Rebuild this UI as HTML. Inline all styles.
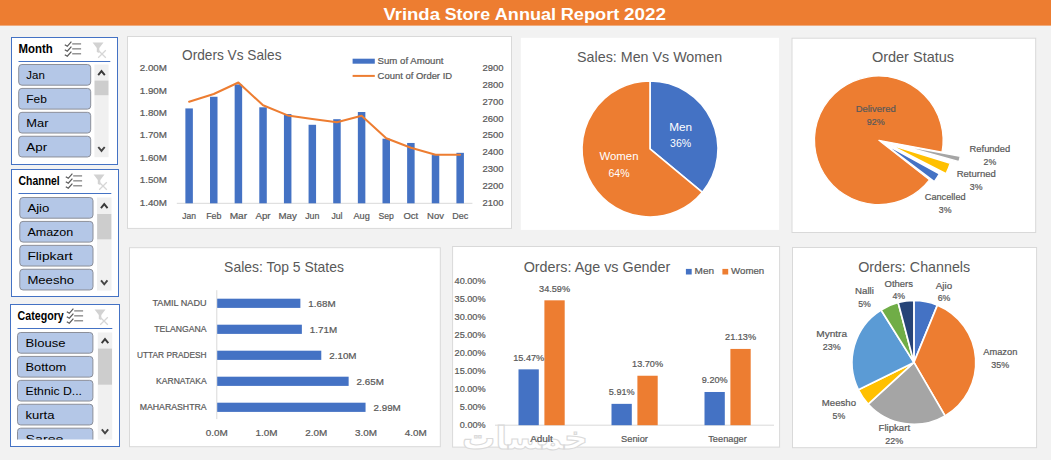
<!DOCTYPE html>
<html><head><meta charset="utf-8"><title>Vrinda Store Annual Report 2022</title>
<style>html,body{margin:0;padding:0;background:#F2F2F2;overflow:hidden}svg{display:block;font-family:"Liberation Sans", sans-serif}</style>
</head><body>
<svg width="1051" height="460" viewBox="0 0 1051 460">
<rect x="0.00" y="0.00" width="1051.00" height="460.00" fill="#F2F2F2"/>
<rect x="0.00" y="0.00" width="1051.00" height="25.60" fill="#ED7D31"/>
<text y="20.2" font-size="17.2" font-weight="bold" fill="#fff"><tspan x="383.40" textLength="56.58" lengthAdjust="spacingAndGlyphs">Vrinda</tspan> <tspan x="444.66" textLength="45.47" lengthAdjust="spacingAndGlyphs">Store</tspan> <tspan x="494.82" textLength="61.22" lengthAdjust="spacingAndGlyphs">Annual</tspan> <tspan x="560.72" textLength="58.59" lengthAdjust="spacingAndGlyphs">Report</tspan> <tspan x="624.00" textLength="42.00" lengthAdjust="spacingAndGlyphs">2022</tspan></text>
<rect x="11.50" y="37.50" width="106.00" height="127.00" fill="#fff" stroke="#4472C4" stroke-width="1"/>
<text x="18.60" y="53.30" font-size="12.2" text-anchor="start" fill="#000" font-weight="bold" textLength="34.20" lengthAdjust="spacingAndGlyphs">Month</text>
<line x1="18.50" y1="61.50" x2="110.30" y2="61.50" stroke="#4472C4" stroke-width="1"/>
<path d="M64.80,44.80 l2.5,1.5 l4.1,-4.6" fill="none" stroke="#595959" stroke-width="1.25"/><line x1="72.20" y1="43.90" x2="81.10" y2="43.90" stroke="#7a7a7a" stroke-width="1.2"/><path d="M64.80,49.75 l2.5,1.5 l4.1,-4.6" fill="none" stroke="#595959" stroke-width="1.25"/><line x1="72.20" y1="48.85" x2="81.10" y2="48.85" stroke="#7a7a7a" stroke-width="1.2"/><path d="M64.80,54.70 l2.5,1.5 l4.1,-4.6" fill="none" stroke="#595959" stroke-width="1.25"/><line x1="72.20" y1="53.80" x2="81.10" y2="53.80" stroke="#7a7a7a" stroke-width="1.2"/>
<path d="M92.60,42.50 h10.9 l-4.2,5.4 v5.2 l-2.5,-1.2 v-4 z" fill="#d2d2d2"/>
<path d="M98.20,50.30 l7.6,7.4 m0,-7.4 l-7.6,7.4" stroke="#d6d6d6" stroke-width="1.3" fill="none"/>
<rect x="94.40" y="64.50" width="14.20" height="92.70" fill="#F0F0F0"/>
<rect x="94.60" y="80.60" width="13.80" height="14.60" fill="#CDCDCD"/>
<path d="M98.20,75.10 l3.3,-4 l3.3,4" fill="none" stroke="#3a3a3a" stroke-width="1.9"/>
<path d="M98.30,147.00 l3.2,3.9 l3.2,-3.9" fill="none" stroke="#444" stroke-width="1.9"/>
<g>
<rect x="18.70" y="64.50" width="72.00" height="20.70" fill="#B4C7E7" stroke="#8C8F99" stroke-width="1" rx="3.2"/>
<text x="26.30" y="79.10" font-size="11.8" text-anchor="start" fill="#000" textLength="18.50" lengthAdjust="spacingAndGlyphs">Jan</text>
<rect x="18.70" y="88.42" width="72.00" height="20.70" fill="#B4C7E7" stroke="#8C8F99" stroke-width="1" rx="3.2"/>
<text x="26.30" y="103.02" font-size="11.8" text-anchor="start" fill="#000" textLength="20.60" lengthAdjust="spacingAndGlyphs">Feb</text>
<rect x="18.70" y="112.34" width="72.00" height="20.70" fill="#B4C7E7" stroke="#8C8F99" stroke-width="1" rx="3.2"/>
<text x="26.30" y="126.94" font-size="11.8" text-anchor="start" fill="#000" textLength="22.20" lengthAdjust="spacingAndGlyphs">Mar</text>
<rect x="18.70" y="136.26" width="72.00" height="20.70" fill="#B4C7E7" stroke="#8C8F99" stroke-width="1" rx="3.2"/>
<text x="26.30" y="150.86" font-size="11.8" text-anchor="start" fill="#000" textLength="20.90" lengthAdjust="spacingAndGlyphs">Apr</text>
</g>
<rect x="11.50" y="169.50" width="107.00" height="127.00" fill="#fff" stroke="#4472C4" stroke-width="1"/>
<text x="18.60" y="185.30" font-size="12.2" text-anchor="start" fill="#000" font-weight="bold" textLength="41.10" lengthAdjust="spacingAndGlyphs">Channel</text>
<line x1="18.50" y1="193.50" x2="111.30" y2="193.50" stroke="#4472C4" stroke-width="1"/>
<path d="M65.80,176.80 l2.5,1.5 l4.1,-4.6" fill="none" stroke="#595959" stroke-width="1.25"/><line x1="73.20" y1="175.90" x2="82.10" y2="175.90" stroke="#7a7a7a" stroke-width="1.2"/><path d="M65.80,181.75 l2.5,1.5 l4.1,-4.6" fill="none" stroke="#595959" stroke-width="1.25"/><line x1="73.20" y1="180.85" x2="82.10" y2="180.85" stroke="#7a7a7a" stroke-width="1.2"/><path d="M65.80,186.70 l2.5,1.5 l4.1,-4.6" fill="none" stroke="#595959" stroke-width="1.25"/><line x1="73.20" y1="185.80" x2="82.10" y2="185.80" stroke="#7a7a7a" stroke-width="1.2"/>
<path d="M93.60,174.50 h10.9 l-4.2,5.4 v5.2 l-2.5,-1.2 v-4 z" fill="#d2d2d2"/>
<path d="M99.20,182.30 l7.6,7.4 m0,-7.4 l-7.6,7.4" stroke="#d6d6d6" stroke-width="1.3" fill="none"/>
<rect x="97.00" y="197.50" width="14.50" height="93.10" fill="#F0F0F0"/>
<rect x="97.20" y="214.00" width="14.10" height="25.30" fill="#CDCDCD"/>
<path d="M100.95,208.10 l3.3,-4 l3.3,4" fill="none" stroke="#3a3a3a" stroke-width="1.9"/>
<path d="M101.05,280.40 l3.2,3.9 l3.2,-3.9" fill="none" stroke="#444" stroke-width="1.9"/>
<g>
<rect x="19.80" y="197.50" width="73.20" height="20.70" fill="#B4C7E7" stroke="#8C8F99" stroke-width="1" rx="3.2"/>
<text x="27.40" y="212.10" font-size="11.8" text-anchor="start" fill="#000" textLength="22.00" lengthAdjust="spacingAndGlyphs">Ajio</text>
<rect x="19.80" y="221.42" width="73.20" height="20.70" fill="#B4C7E7" stroke="#8C8F99" stroke-width="1" rx="3.2"/>
<text x="27.40" y="236.02" font-size="11.8" text-anchor="start" fill="#000" textLength="45.90" lengthAdjust="spacingAndGlyphs">Amazon</text>
<rect x="19.80" y="245.34" width="73.20" height="20.70" fill="#B4C7E7" stroke="#8C8F99" stroke-width="1" rx="3.2"/>
<text x="27.40" y="259.94" font-size="11.8" text-anchor="start" fill="#000" textLength="45.20" lengthAdjust="spacingAndGlyphs">Flipkart</text>
<rect x="19.80" y="269.26" width="73.20" height="20.70" fill="#B4C7E7" stroke="#8C8F99" stroke-width="1" rx="3.2"/>
<text x="27.40" y="283.86" font-size="11.8" text-anchor="start" fill="#000" textLength="46.70" lengthAdjust="spacingAndGlyphs">Meesho</text>
</g>
<rect x="10.50" y="304.50" width="109.00" height="142.00" fill="#fff" stroke="#4472C4" stroke-width="1"/>
<text x="17.60" y="320.30" font-size="12.2" text-anchor="start" fill="#000" font-weight="bold" textLength="46.10" lengthAdjust="spacingAndGlyphs">Category</text>
<line x1="17.50" y1="328.50" x2="112.30" y2="328.50" stroke="#4472C4" stroke-width="1"/>
<path d="M66.80,311.80 l2.5,1.5 l4.1,-4.6" fill="none" stroke="#595959" stroke-width="1.25"/><line x1="74.20" y1="310.90" x2="83.10" y2="310.90" stroke="#7a7a7a" stroke-width="1.2"/><path d="M66.80,316.75 l2.5,1.5 l4.1,-4.6" fill="none" stroke="#595959" stroke-width="1.25"/><line x1="74.20" y1="315.85" x2="83.10" y2="315.85" stroke="#7a7a7a" stroke-width="1.2"/><path d="M66.80,321.70 l2.5,1.5 l4.1,-4.6" fill="none" stroke="#595959" stroke-width="1.25"/><line x1="74.20" y1="320.80" x2="83.10" y2="320.80" stroke="#7a7a7a" stroke-width="1.2"/>
<path d="M94.60,309.50 h10.9 l-4.2,5.4 v5.2 l-2.5,-1.2 v-4 z" fill="#d2d2d2"/>
<path d="M100.20,317.30 l7.6,7.4 m0,-7.4 l-7.6,7.4" stroke="#d6d6d6" stroke-width="1.3" fill="none"/>
<rect x="97.80" y="332.50" width="14.40" height="107.10" fill="#F0F0F0"/>
<rect x="98.00" y="348.60" width="14.00" height="36.10" fill="#CDCDCD"/>
<path d="M101.70,343.10 l3.3,-4 l3.3,4" fill="none" stroke="#3a3a3a" stroke-width="1.9"/>
<path d="M101.80,429.40 l3.2,3.9 l3.2,-3.9" fill="none" stroke="#444" stroke-width="1.9"/>
<clipPath id="cl304"><rect x="10.5" y="330.5" width="109.0" height="109.10000000000002"/></clipPath>
<g clip-path="url(#cl304)">
<rect x="17.50" y="332.50" width="75.40" height="20.70" fill="#B4C7E7" stroke="#8C8F99" stroke-width="1" rx="3.2"/>
<text x="25.50" y="347.10" font-size="11.8" text-anchor="start" fill="#000" textLength="40.00" lengthAdjust="spacingAndGlyphs">Blouse</text>
<rect x="17.50" y="356.42" width="75.40" height="20.70" fill="#B4C7E7" stroke="#8C8F99" stroke-width="1" rx="3.2"/>
<text x="25.50" y="371.02" font-size="11.8" text-anchor="start" fill="#000" textLength="40.80" lengthAdjust="spacingAndGlyphs">Bottom</text>
<rect x="17.50" y="380.34" width="75.40" height="20.70" fill="#B4C7E7" stroke="#8C8F99" stroke-width="1" rx="3.2"/>
<text x="25.50" y="394.94" font-size="11.8" text-anchor="start" fill="#000" textLength="56.50" lengthAdjust="spacingAndGlyphs">Ethnic D...</text>
<rect x="17.50" y="404.26" width="75.40" height="20.70" fill="#B4C7E7" stroke="#8C8F99" stroke-width="1" rx="3.2"/>
<text x="25.50" y="418.86" font-size="11.8" text-anchor="start" fill="#000" textLength="29.00" lengthAdjust="spacingAndGlyphs">kurta</text>
<rect x="17.50" y="428.18" width="75.40" height="20.70" fill="#B4C7E7" stroke="#8C8F99" stroke-width="1" rx="3.2"/>
<text x="25.50" y="442.78" font-size="11.8" text-anchor="start" fill="#000" textLength="38.00" lengthAdjust="spacingAndGlyphs">Saree</text>
</g>
<rect x="127.50" y="36.50" width="384.00" height="191.90" fill="#fff" stroke="#D9D9D9" stroke-width="1"/>
<text x="231.80" y="59.83" font-size="14.6" text-anchor="middle" fill="#595959" textLength="99.46" lengthAdjust="spacingAndGlyphs">Orders Vs Sales</text>
<text x="167.00" y="205.75" font-size="9.64" text-anchor="end" fill="#595959" textLength="27.25" lengthAdjust="spacingAndGlyphs" stroke="#595959" stroke-width="0.22">1.40M</text>
<text x="167.00" y="183.32" font-size="9.64" text-anchor="end" fill="#595959" textLength="27.25" lengthAdjust="spacingAndGlyphs" stroke="#595959" stroke-width="0.22">1.50M</text>
<text x="167.00" y="160.88" font-size="9.64" text-anchor="end" fill="#595959" textLength="27.25" lengthAdjust="spacingAndGlyphs" stroke="#595959" stroke-width="0.22">1.60M</text>
<text x="167.00" y="138.45" font-size="9.64" text-anchor="end" fill="#595959" textLength="27.25" lengthAdjust="spacingAndGlyphs" stroke="#595959" stroke-width="0.22">1.70M</text>
<text x="167.00" y="116.02" font-size="9.64" text-anchor="end" fill="#595959" textLength="27.25" lengthAdjust="spacingAndGlyphs" stroke="#595959" stroke-width="0.22">1.80M</text>
<text x="167.00" y="93.58" font-size="9.64" text-anchor="end" fill="#595959" textLength="27.25" lengthAdjust="spacingAndGlyphs" stroke="#595959" stroke-width="0.22">1.90M</text>
<text x="167.00" y="71.15" font-size="9.64" text-anchor="end" fill="#595959" textLength="27.25" lengthAdjust="spacingAndGlyphs" stroke="#595959" stroke-width="0.22">2.00M</text>
<text x="482.60" y="205.75" font-size="9.64" text-anchor="start" fill="#595959" textLength="21.02" lengthAdjust="spacingAndGlyphs" stroke="#595959" stroke-width="0.22">2100</text>
<text x="482.60" y="188.93" font-size="9.64" text-anchor="start" fill="#595959" textLength="21.02" lengthAdjust="spacingAndGlyphs" stroke="#595959" stroke-width="0.22">2200</text>
<text x="482.60" y="172.10" font-size="9.64" text-anchor="start" fill="#595959" textLength="21.02" lengthAdjust="spacingAndGlyphs" stroke="#595959" stroke-width="0.22">2300</text>
<text x="482.60" y="155.28" font-size="9.64" text-anchor="start" fill="#595959" textLength="21.02" lengthAdjust="spacingAndGlyphs" stroke="#595959" stroke-width="0.22">2400</text>
<text x="482.60" y="138.45" font-size="9.64" text-anchor="start" fill="#595959" textLength="21.02" lengthAdjust="spacingAndGlyphs" stroke="#595959" stroke-width="0.22">2500</text>
<text x="482.60" y="121.63" font-size="9.64" text-anchor="start" fill="#595959" textLength="21.02" lengthAdjust="spacingAndGlyphs" stroke="#595959" stroke-width="0.22">2600</text>
<text x="482.60" y="104.80" font-size="9.64" text-anchor="start" fill="#595959" textLength="21.02" lengthAdjust="spacingAndGlyphs" stroke="#595959" stroke-width="0.22">2700</text>
<text x="482.60" y="87.98" font-size="9.64" text-anchor="start" fill="#595959" textLength="21.02" lengthAdjust="spacingAndGlyphs" stroke="#595959" stroke-width="0.22">2800</text>
<text x="482.60" y="71.15" font-size="9.64" text-anchor="start" fill="#595959" textLength="21.02" lengthAdjust="spacingAndGlyphs" stroke="#595959" stroke-width="0.22">2900</text>
<line x1="176.80" y1="203.30" x2="472.40" y2="203.30" stroke="#D9D9D9" stroke-width="1"/>
<rect x="185.37" y="108.42" width="7.50" height="94.88" fill="#4472C4"/>
<text x="189.12" y="218.75" font-size="9.64" text-anchor="middle" fill="#595959" textLength="13.72" lengthAdjust="spacingAndGlyphs" stroke="#595959" stroke-width="0.22">Jan</text>
<rect x="210.01" y="96.76" width="7.50" height="106.54" fill="#4472C4"/>
<text x="213.76" y="218.75" font-size="9.64" text-anchor="middle" fill="#595959" textLength="15.22" lengthAdjust="spacingAndGlyphs" stroke="#595959" stroke-width="0.22">Feb</text>
<rect x="234.65" y="84.42" width="7.50" height="118.88" fill="#4472C4"/>
<text x="238.40" y="218.75" font-size="9.64" text-anchor="middle" fill="#595959" textLength="17.45" lengthAdjust="spacingAndGlyphs" stroke="#595959" stroke-width="0.22">Mar</text>
<rect x="259.29" y="107.30" width="7.50" height="96.00" fill="#4472C4"/>
<text x="263.04" y="218.75" font-size="9.64" text-anchor="middle" fill="#595959" textLength="15.06" lengthAdjust="spacingAndGlyphs" stroke="#595959" stroke-width="0.22">Apr</text>
<rect x="283.93" y="114.03" width="7.50" height="89.27" fill="#4472C4"/>
<text x="287.68" y="218.75" font-size="9.64" text-anchor="middle" fill="#595959" textLength="18.33" lengthAdjust="spacingAndGlyphs" stroke="#595959" stroke-width="0.22">May</text>
<rect x="308.57" y="124.79" width="7.50" height="78.51" fill="#4472C4"/>
<text x="312.32" y="218.75" font-size="9.64" text-anchor="middle" fill="#595959" textLength="14.20" lengthAdjust="spacingAndGlyphs" stroke="#595959" stroke-width="0.22">Jun</text>
<rect x="333.21" y="119.19" width="7.50" height="84.11" fill="#4472C4"/>
<text x="336.96" y="218.75" font-size="9.64" text-anchor="middle" fill="#595959" textLength="11.13" lengthAdjust="spacingAndGlyphs" stroke="#595959" stroke-width="0.22">Jul</text>
<rect x="357.85" y="112.01" width="7.50" height="91.29" fill="#4472C4"/>
<text x="361.60" y="218.75" font-size="9.64" text-anchor="middle" fill="#595959" textLength="16.33" lengthAdjust="spacingAndGlyphs" stroke="#595959" stroke-width="0.22">Aug</text>
<rect x="382.49" y="138.70" width="7.50" height="64.60" fill="#4472C4"/>
<text x="386.24" y="218.75" font-size="9.64" text-anchor="middle" fill="#595959" textLength="15.37" lengthAdjust="spacingAndGlyphs" stroke="#595959" stroke-width="0.22">Sep</text>
<rect x="407.13" y="142.96" width="7.50" height="60.34" fill="#4472C4"/>
<text x="410.88" y="218.75" font-size="9.64" text-anchor="middle" fill="#595959" textLength="14.72" lengthAdjust="spacingAndGlyphs" stroke="#595959" stroke-width="0.22">Oct</text>
<rect x="431.77" y="155.08" width="7.50" height="48.22" fill="#4472C4"/>
<text x="435.52" y="218.75" font-size="9.64" text-anchor="middle" fill="#595959" textLength="16.80" lengthAdjust="spacingAndGlyphs" stroke="#595959" stroke-width="0.22">Nov</text>
<rect x="456.41" y="152.83" width="7.50" height="50.47" fill="#4472C4"/>
<text x="460.16" y="218.75" font-size="9.64" text-anchor="middle" fill="#595959" textLength="15.92" lengthAdjust="spacingAndGlyphs" stroke="#595959" stroke-width="0.22">Dec</text>
<polyline points="189.12,101.70 213.76,94.00 238.40,82.50 263.04,105.30 287.68,115.40 312.32,119.00 336.96,122.20 361.60,115.80 386.24,138.20 410.88,147.80 435.52,154.70 460.16,154.70" fill="none" stroke="#ED7D31" stroke-width="2" stroke-linejoin="round" stroke-linecap="round"/>
<rect x="352.60" y="58.70" width="22.20" height="5.00" fill="#4472C4"/>
<text x="377.60" y="64.35" font-size="9.64" text-anchor="start" fill="#595959" textLength="65.85" lengthAdjust="spacingAndGlyphs" stroke="#595959" stroke-width="0.22">Sum of Amount</text>
<line x1="352.60" y1="75.90" x2="374.80" y2="75.90" stroke="#ED7D31" stroke-width="2"/>
<text x="377.60" y="79.35" font-size="9.64" text-anchor="start" fill="#595959" textLength="74.49" lengthAdjust="spacingAndGlyphs" stroke="#595959" stroke-width="0.22">Count of Order ID</text>
<rect x="520.80" y="37.80" width="258.20" height="192.10" fill="#fff"/>
<text x="649.60" y="62.03" font-size="14.6" text-anchor="middle" fill="#595959" textLength="145.04" lengthAdjust="spacingAndGlyphs">Sales: Men Vs Women</text>
<path d="M650.00,148.95 L650.00,80.95 A68.00,68.00 0 0 1 702.39,192.29 Z" fill="#4472C4" stroke="#fff" stroke-width="1.6" stroke-linejoin="round"/>
<path d="M650.00,148.95 L702.39,192.29 A68.00,68.00 0 1 1 650.00,80.95 Z" fill="#ED7D31" stroke="#fff" stroke-width="1.6" stroke-linejoin="round"/>
<text x="680.60" y="130.60" font-size="11.16" text-anchor="middle" fill="#fff" textLength="22.91" lengthAdjust="spacingAndGlyphs">Men</text>
<text x="680.60" y="147.40" font-size="11.16" text-anchor="middle" fill="#fff" textLength="21.09" lengthAdjust="spacingAndGlyphs">36%</text>
<text x="619.00" y="159.80" font-size="11.16" text-anchor="middle" fill="#fff" textLength="39.00" lengthAdjust="spacingAndGlyphs">Women</text>
<text x="619.00" y="176.60" font-size="11.16" text-anchor="middle" fill="#fff" textLength="21.09" lengthAdjust="spacingAndGlyphs">64%</text>
<rect x="792.00" y="38.20" width="243.70" height="194.30" fill="#fff" stroke="#D9D9D9" stroke-width="1"/>
<text x="913.00" y="62.33" font-size="14.6" text-anchor="middle" fill="#595959" textLength="82.23" lengthAdjust="spacingAndGlyphs">Order Status</text>
<path d="M882.92,142.95 L939.36,173.76 A64.30,64.30 0 0 1 934.29,181.63 Z" fill="#4472C4" stroke="#fff" stroke-width="1.5" stroke-linejoin="round"/>
<path d="M878.80,140.30 L929.47,179.89 A64.30,64.30 0 1 1 942.00,152.13 Z" fill="#ED7D31" stroke="#fff" stroke-width="1.2" stroke-linejoin="round"/>
<path d="M897.12,144.53 L960.33,156.33 A64.30,64.30 0 0 1 959.10,161.63 Z" fill="#A5A5A5" stroke="#fff" stroke-width="1.5" stroke-linejoin="round"/>
<path d="M888.81,144.36 L950.29,163.19 A64.30,64.30 0 0 1 946.01,173.73 Z" fill="#FFC000" stroke="#fff" stroke-width="1.5" stroke-linejoin="round"/>
<text x="875.70" y="112.45" font-size="9.64" text-anchor="middle" fill="#595959" textLength="40.13" lengthAdjust="spacingAndGlyphs" stroke="#595959" stroke-width="0.22">Delivered</text>
<text x="875.70" y="124.85" font-size="9.64" text-anchor="middle" fill="#595959" textLength="17.92" lengthAdjust="spacingAndGlyphs" stroke="#595959" stroke-width="0.22">92%</text>
<text x="989.90" y="152.05" font-size="9.64" text-anchor="middle" fill="#595959" textLength="40.63" lengthAdjust="spacingAndGlyphs" stroke="#595959" stroke-width="0.22">Refunded</text>
<text x="989.90" y="164.95" font-size="9.64" text-anchor="middle" fill="#595959" textLength="12.67" lengthAdjust="spacingAndGlyphs" stroke="#595959" stroke-width="0.22">2%</text>
<text x="976.20" y="177.45" font-size="9.64" text-anchor="middle" fill="#595959" textLength="39.15" lengthAdjust="spacingAndGlyphs" stroke="#595959" stroke-width="0.22">Returned</text>
<text x="976.20" y="189.85" font-size="9.64" text-anchor="middle" fill="#595959" textLength="12.67" lengthAdjust="spacingAndGlyphs" stroke="#595959" stroke-width="0.22">3%</text>
<text x="945.20" y="200.05" font-size="9.64" text-anchor="middle" fill="#595959" textLength="40.86" lengthAdjust="spacingAndGlyphs" stroke="#595959" stroke-width="0.22">Cancelled</text>
<text x="945.20" y="212.95" font-size="9.64" text-anchor="middle" fill="#595959" textLength="12.67" lengthAdjust="spacingAndGlyphs" stroke="#595959" stroke-width="0.22">3%</text>
<rect x="129.50" y="247.70" width="310.80" height="199.00" fill="#fff" stroke="#D9D9D9" stroke-width="1"/>
<text x="284.00" y="271.53" font-size="14.6" text-anchor="middle" fill="#595959" textLength="119.77" lengthAdjust="spacingAndGlyphs">Sales: Top 5 States</text>
<line x1="216.80" y1="290.20" x2="216.80" y2="419.10" stroke="#D9D9D9" stroke-width="1"/>
<rect x="217.20" y="298.70" width="83.18" height="9.20" fill="#4472C4"/>
<text x="206.60" y="306.25" font-size="9.64" text-anchor="end" fill="#595959" textLength="54.15" lengthAdjust="spacingAndGlyphs" stroke="#595959" stroke-width="0.22">TAMIL NADU</text>
<text x="308.38" y="306.75" font-size="9.64" text-anchor="start" fill="#595959" textLength="27.25" lengthAdjust="spacingAndGlyphs" stroke="#595959" stroke-width="0.22">1.68M</text>
<rect x="217.20" y="324.70" width="84.67" height="9.20" fill="#4472C4"/>
<text x="206.60" y="332.25" font-size="9.64" text-anchor="end" fill="#595959" textLength="52.41" lengthAdjust="spacingAndGlyphs" stroke="#595959" stroke-width="0.22">TELANGANA</text>
<text x="309.87" y="332.75" font-size="9.64" text-anchor="start" fill="#595959" textLength="27.25" lengthAdjust="spacingAndGlyphs" stroke="#595959" stroke-width="0.22">1.71M</text>
<rect x="217.20" y="350.70" width="104.08" height="9.20" fill="#4472C4"/>
<text x="206.60" y="358.25" font-size="9.64" text-anchor="end" fill="#595959" textLength="69.62" lengthAdjust="spacingAndGlyphs" stroke="#595959" stroke-width="0.22">UTTAR PRADESH</text>
<text x="329.28" y="358.75" font-size="9.64" text-anchor="start" fill="#595959" textLength="27.25" lengthAdjust="spacingAndGlyphs" stroke="#595959" stroke-width="0.22">2.10M</text>
<rect x="217.20" y="376.70" width="131.44" height="9.20" fill="#4472C4"/>
<text x="206.60" y="384.25" font-size="9.64" text-anchor="end" fill="#595959" textLength="50.53" lengthAdjust="spacingAndGlyphs" stroke="#595959" stroke-width="0.22">KARNATAKA</text>
<text x="356.64" y="384.75" font-size="9.64" text-anchor="start" fill="#595959" textLength="27.25" lengthAdjust="spacingAndGlyphs" stroke="#595959" stroke-width="0.22">2.65M</text>
<rect x="217.20" y="402.70" width="148.35" height="9.20" fill="#4472C4"/>
<text x="206.60" y="410.25" font-size="9.64" text-anchor="end" fill="#595959" textLength="66.87" lengthAdjust="spacingAndGlyphs" stroke="#595959" stroke-width="0.22">MAHARASHTRA</text>
<text x="373.55" y="410.75" font-size="9.64" text-anchor="start" fill="#595959" textLength="27.25" lengthAdjust="spacingAndGlyphs" stroke="#595959" stroke-width="0.22">2.99M</text>
<text x="216.80" y="436.35" font-size="9.64" text-anchor="middle" fill="#595959" textLength="22.00" lengthAdjust="spacingAndGlyphs" stroke="#595959" stroke-width="0.22">0.0M</text>
<text x="266.55" y="436.35" font-size="9.64" text-anchor="middle" fill="#595959" textLength="22.00" lengthAdjust="spacingAndGlyphs" stroke="#595959" stroke-width="0.22">1.0M</text>
<text x="316.30" y="436.35" font-size="9.64" text-anchor="middle" fill="#595959" textLength="22.00" lengthAdjust="spacingAndGlyphs" stroke="#595959" stroke-width="0.22">2.0M</text>
<text x="366.05" y="436.35" font-size="9.64" text-anchor="middle" fill="#595959" textLength="22.00" lengthAdjust="spacingAndGlyphs" stroke="#595959" stroke-width="0.22">3.0M</text>
<text x="415.80" y="436.35" font-size="9.64" text-anchor="middle" fill="#595959" textLength="22.00" lengthAdjust="spacingAndGlyphs" stroke="#595959" stroke-width="0.22">4.0M</text>
<rect x="452.60" y="246.50" width="327.00" height="200.60" fill="#fff" stroke="#D9D9D9" stroke-width="1"/>
<text x="525" y="448.6" font-weight="bold" font-size="32" text-anchor="middle" fill="#ffffff" stroke="#dadada" stroke-width="1.1" font-family="DejaVu Sans, sans-serif" direction="rtl" textLength="126" lengthAdjust="spacingAndGlyphs">خمسات</text>
<text x="597.00" y="271.53" font-size="14.6" text-anchor="middle" fill="#595959" textLength="146.64" lengthAdjust="spacingAndGlyphs">Orders: Age vs Gender</text>
<text x="485.60" y="428.35" font-size="9.64" text-anchor="end" fill="#595959" textLength="25.80" lengthAdjust="spacingAndGlyphs" stroke="#595959" stroke-width="0.22">0.00%</text>
<text x="485.60" y="410.30" font-size="9.64" text-anchor="end" fill="#595959" textLength="25.80" lengthAdjust="spacingAndGlyphs" stroke="#595959" stroke-width="0.22">5.00%</text>
<text x="485.60" y="392.25" font-size="9.64" text-anchor="end" fill="#595959" textLength="31.05" lengthAdjust="spacingAndGlyphs" stroke="#595959" stroke-width="0.22">10.00%</text>
<text x="485.60" y="374.20" font-size="9.64" text-anchor="end" fill="#595959" textLength="31.05" lengthAdjust="spacingAndGlyphs" stroke="#595959" stroke-width="0.22">15.00%</text>
<text x="485.60" y="356.15" font-size="9.64" text-anchor="end" fill="#595959" textLength="31.05" lengthAdjust="spacingAndGlyphs" stroke="#595959" stroke-width="0.22">20.00%</text>
<text x="485.60" y="338.10" font-size="9.64" text-anchor="end" fill="#595959" textLength="31.05" lengthAdjust="spacingAndGlyphs" stroke="#595959" stroke-width="0.22">25.00%</text>
<text x="485.60" y="320.05" font-size="9.64" text-anchor="end" fill="#595959" textLength="31.05" lengthAdjust="spacingAndGlyphs" stroke="#595959" stroke-width="0.22">30.00%</text>
<text x="485.60" y="302.00" font-size="9.64" text-anchor="end" fill="#595959" textLength="31.05" lengthAdjust="spacingAndGlyphs" stroke="#595959" stroke-width="0.22">35.00%</text>
<text x="485.60" y="283.95" font-size="9.64" text-anchor="end" fill="#595959" textLength="31.05" lengthAdjust="spacingAndGlyphs" stroke="#595959" stroke-width="0.22">40.00%</text>
<line x1="495.00" y1="425.20" x2="774.00" y2="425.20" stroke="#D9D9D9" stroke-width="1"/>
<rect x="518.50" y="369.35" width="20.30" height="55.85" fill="#4472C4"/>
<rect x="544.40" y="300.33" width="20.30" height="124.87" fill="#ED7D31"/>
<text x="528.70" y="360.80" font-size="9.64" text-anchor="middle" fill="#595959" textLength="31.05" lengthAdjust="spacingAndGlyphs" stroke="#595959" stroke-width="0.22">15.47%</text>
<text x="554.60" y="291.78" font-size="9.64" text-anchor="middle" fill="#595959" textLength="31.05" lengthAdjust="spacingAndGlyphs" stroke="#595959" stroke-width="0.22">34.59%</text>
<text x="541.50" y="441.65" font-size="9.64" text-anchor="middle" fill="#595959" textLength="22.75" lengthAdjust="spacingAndGlyphs" stroke="#595959" stroke-width="0.22">Adult</text>
<rect x="611.50" y="403.86" width="20.30" height="21.34" fill="#4472C4"/>
<rect x="637.40" y="375.74" width="20.30" height="49.46" fill="#ED7D31"/>
<text x="621.70" y="395.32" font-size="9.64" text-anchor="middle" fill="#595959" textLength="25.80" lengthAdjust="spacingAndGlyphs" stroke="#595959" stroke-width="0.22">5.91%</text>
<text x="647.60" y="367.19" font-size="9.64" text-anchor="middle" fill="#595959" textLength="31.05" lengthAdjust="spacingAndGlyphs" stroke="#595959" stroke-width="0.22">13.70%</text>
<text x="634.50" y="441.65" font-size="9.64" text-anchor="middle" fill="#595959" textLength="26.84" lengthAdjust="spacingAndGlyphs" stroke="#595959" stroke-width="0.22">Senior</text>
<rect x="704.50" y="391.99" width="20.30" height="33.21" fill="#4472C4"/>
<rect x="730.40" y="348.92" width="20.30" height="76.28" fill="#ED7D31"/>
<text x="714.70" y="383.44" font-size="9.64" text-anchor="middle" fill="#595959" textLength="25.80" lengthAdjust="spacingAndGlyphs" stroke="#595959" stroke-width="0.22">9.20%</text>
<text x="740.60" y="340.37" font-size="9.64" text-anchor="middle" fill="#595959" textLength="31.05" lengthAdjust="spacingAndGlyphs" stroke="#595959" stroke-width="0.22">21.13%</text>
<text x="727.50" y="441.65" font-size="9.64" text-anchor="middle" fill="#595959" textLength="38.44" lengthAdjust="spacingAndGlyphs" stroke="#595959" stroke-width="0.22">Teenager</text>
<rect x="685.90" y="268.90" width="5.80" height="5.60" fill="#4472C4"/>
<text x="694.60" y="274.35" font-size="9.64" text-anchor="start" fill="#595959" textLength="19.47" lengthAdjust="spacingAndGlyphs" stroke="#595959" stroke-width="0.22">Men</text>
<rect x="722.40" y="268.90" width="5.80" height="5.60" fill="#ED7D31"/>
<text x="731.10" y="274.35" font-size="9.64" text-anchor="start" fill="#595959" textLength="33.15" lengthAdjust="spacingAndGlyphs" stroke="#595959" stroke-width="0.22">Women</text>
<rect x="792.50" y="247.50" width="244.10" height="200.20" fill="#fff" stroke="#D9D9D9" stroke-width="1"/>
<text x="914.20" y="271.53" font-size="14.6" text-anchor="middle" fill="#595959" textLength="111.99" lengthAdjust="spacingAndGlyphs">Orders: Channels</text>
<path d="M913.90,362.40 L913.90,300.50 A61.90,61.90 0 0 1 937.41,305.14 Z" fill="#4472C4" stroke="#fff" stroke-width="1.7" stroke-linejoin="round"/>
<path d="M913.90,362.40 L937.41,305.14 A61.90,61.90 0 0 1 945.07,415.88 Z" fill="#ED7D31" stroke="#fff" stroke-width="1.7" stroke-linejoin="round"/>
<path d="M913.90,362.40 L945.07,415.88 A61.90,61.90 0 0 1 868.25,404.20 Z" fill="#A5A5A5" stroke="#fff" stroke-width="1.7" stroke-linejoin="round"/>
<path d="M913.90,362.40 L868.25,404.20 A61.90,61.90 0 0 1 858.40,389.81 Z" fill="#FFC000" stroke="#fff" stroke-width="1.7" stroke-linejoin="round"/>
<path d="M913.90,362.40 L858.40,389.81 A61.90,61.90 0 0 1 881.06,309.93 Z" fill="#5B9BD5" stroke="#fff" stroke-width="1.7" stroke-linejoin="round"/>
<path d="M913.90,362.40 L881.06,309.93 A61.90,61.90 0 0 1 898.13,302.54 Z" fill="#70AD47" stroke="#fff" stroke-width="1.7" stroke-linejoin="round"/>
<path d="M913.90,362.40 L898.13,302.54 A61.90,61.90 0 0 1 913.90,300.50 Z" fill="#264478" stroke="#fff" stroke-width="1.7" stroke-linejoin="round"/>
<text x="944.00" y="288.65" font-size="9.64" text-anchor="middle" fill="#595959" textLength="16.33" lengthAdjust="spacingAndGlyphs" stroke="#595959" stroke-width="0.22">Ajio</text>
<text x="944.00" y="301.35" font-size="9.64" text-anchor="middle" fill="#595959" textLength="12.67" lengthAdjust="spacingAndGlyphs" stroke="#595959" stroke-width="0.22">6%</text>
<text x="898.80" y="286.95" font-size="9.64" text-anchor="middle" fill="#595959" textLength="28.44" lengthAdjust="spacingAndGlyphs" stroke="#595959" stroke-width="0.22">Others</text>
<text x="898.80" y="299.35" font-size="9.64" text-anchor="middle" fill="#595959" textLength="12.67" lengthAdjust="spacingAndGlyphs" stroke="#595959" stroke-width="0.22">4%</text>
<text x="864.50" y="294.35" font-size="9.64" text-anchor="middle" fill="#595959" textLength="18.80" lengthAdjust="spacingAndGlyphs" stroke="#595959" stroke-width="0.22">Nalli</text>
<text x="864.50" y="307.35" font-size="9.64" text-anchor="middle" fill="#595959" textLength="12.67" lengthAdjust="spacingAndGlyphs" stroke="#595959" stroke-width="0.22">5%</text>
<text x="831.70" y="337.35" font-size="9.64" text-anchor="middle" fill="#595959" textLength="30.76" lengthAdjust="spacingAndGlyphs" stroke="#595959" stroke-width="0.22">Myntra</text>
<text x="831.70" y="350.25" font-size="9.64" text-anchor="middle" fill="#595959" textLength="17.92" lengthAdjust="spacingAndGlyphs" stroke="#595959" stroke-width="0.22">23%</text>
<text x="1000.30" y="355.45" font-size="9.64" text-anchor="middle" fill="#595959" textLength="34.04" lengthAdjust="spacingAndGlyphs" stroke="#595959" stroke-width="0.22">Amazon</text>
<text x="1000.30" y="367.85" font-size="9.64" text-anchor="middle" fill="#595959" textLength="17.92" lengthAdjust="spacingAndGlyphs" stroke="#595959" stroke-width="0.22">35%</text>
<text x="838.90" y="406.05" font-size="9.64" text-anchor="middle" fill="#595959" textLength="34.16" lengthAdjust="spacingAndGlyphs" stroke="#595959" stroke-width="0.22">Meesho</text>
<text x="838.90" y="418.75" font-size="9.64" text-anchor="middle" fill="#595959" textLength="12.67" lengthAdjust="spacingAndGlyphs" stroke="#595959" stroke-width="0.22">5%</text>
<text x="894.30" y="430.95" font-size="9.64" text-anchor="middle" fill="#595959" textLength="31.57" lengthAdjust="spacingAndGlyphs" stroke="#595959" stroke-width="0.22">Flipkart</text>
<text x="894.30" y="443.55" font-size="9.64" text-anchor="middle" fill="#595959" textLength="17.92" lengthAdjust="spacingAndGlyphs" stroke="#595959" stroke-width="0.22">22%</text>
</svg>
</body></html>
